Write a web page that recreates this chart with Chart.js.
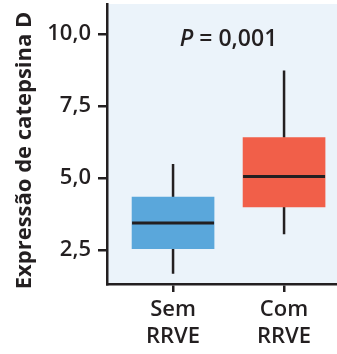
<!DOCTYPE html>
<html>
<head>
<meta charset="utf-8">
<script src="https://cdn.jsdelivr.net/npm/chart.js@4"></script>
<style>
  html, body { margin: 0; padding: 0; background: #ffffff; overflow: hidden; }
  #wrap { width: 337px; height: 354px; position: relative; }
</style>
</head>
<body>
<div id="wrap"><canvas id="c"></canvas></div>
<script>
// ---- data ----
const categories = [['Sem', 'RRVE'], ['Com', 'RRVE']];
const xPositions = [1, 2];
const whiskerLow = [1.68, 3.05];
const q1 = [2.55, 4.00];
const median = [3.44, 5.05];
const q3 = [4.34, 6.40];
const whiskerHigh = [5.49, 8.73];
const yTicks = [2.5, 5.0, 7.5, 10.0];
const boxColors = ['#5aa7db', '#f15f49'];
const pLabelItalic = 'P';
const pLabelRest = ' = 0,001';
const yTitle = 'Expressão de catepsina D';

const INK = '#231f20';
const FONT = "'Open Sans', 'Noto Sans', sans-serif";
Chart.defaults.font.family = FONT;
Chart.defaults.color = INK;

const bgPlugin = {
  id: 'bg',
  beforeDraw(chart) {
    const { ctx, chartArea: a } = chart;
    ctx.save();
    ctx.fillStyle = '#ebf3fa';
    ctx.fillRect(a.left, a.top, chart.width - a.left, a.bottom - a.top);
    ctx.restore();
  }
};

const boxPlugin = {
  id: 'boxparts',
  beforeDatasetsDraw(chart) {
    const { ctx, scales: { x, y } } = chart;
    ctx.save();
    ctx.strokeStyle = INK;
    ctx.lineWidth = 2.5;
    xPositions.forEach((xv, i) => {
      const px = x.getPixelForValue(xv);
      ctx.beginPath();
      ctx.moveTo(px, y.getPixelForValue(whiskerHigh[i]));
      ctx.lineTo(px, y.getPixelForValue(q3[i]));
      ctx.moveTo(px, y.getPixelForValue(q1[i]));
      ctx.lineTo(px, y.getPixelForValue(whiskerLow[i]));
      ctx.stroke();
    });
    ctx.restore();
  },
  afterDatasetsDraw(chart) {
    const { ctx, scales: { y } } = chart;
    const meta = chart.getDatasetMeta(0);
    ctx.save();
    ctx.strokeStyle = INK;
    ctx.lineWidth = 3;
    meta.data.forEach((bar, i) => {
      const half = bar.width / 2;
      const py = y.getPixelForValue(median[i]);
      ctx.beginPath();
      ctx.moveTo(bar.x - half, py);
      ctx.lineTo(bar.x + half, py);
      ctx.stroke();
    });
    ctx.restore();
  },
  afterDraw(chart) {
    const { ctx, scales: { x } } = chart;
    ctx.save();
    ctx.fillStyle = INK;
    ctx.textBaseline = 'alphabetic';
    const fi = 'italic 600 23px ' + FONT;
    const fr = '600 23px ' + FONT;
    ctx.font = fi;
    const w1 = ctx.measureText(pLabelItalic).width;
    ctx.font = fr;
    const w2 = ctx.measureText(pLabelRest).width;
    const cx = x.getPixelForValue(1.5);
    const startX = cx - (w1 + w2) / 2;
    ctx.font = fi;
    ctx.textAlign = 'left';
    ctx.fillText(pLabelItalic, startX, 46);
    ctx.font = fr;
    ctx.fillText(pLabelRest, startX + w1, 46);

    // y-axis title
    ctx.translate(25, 150.5);
    ctx.rotate(-Math.PI / 2);
    ctx.font = 'bold 22px ' + FONT;
    ctx.textAlign = 'center';
    ctx.textBaseline = 'middle';
    ctx.fillText(yTitle, 0, 0);
    ctx.restore();
  }
};

new Chart(document.getElementById('c'), {
  type: 'bar',
  data: {
    datasets: [{
      data: xPositions.map((xv, i) => ({ x: xv, y: [q1[i], q3[i]] })),
      backgroundColor: boxColors,
      borderWidth: 0,
      barThickness: 82
    }]
  },
  options: {
    responsive: true,
    maintainAspectRatio: false,
    animation: false,
    layout: { padding: { top: 4, right: 0, left: 0, bottom: 0 } },
    plugins: { legend: { display: false }, tooltip: { enabled: false }, title: { display: false } },
    scales: {
      x: {
        type: 'linear',
        min: 0.405,
        max: 2.477,
        offset: false,
        afterFit(axis) { axis.height = 70; axis.paddingLeft = 0; axis.paddingRight = 0; },
        afterBuildTicks(axis) { axis.ticks = xPositions.map(v => ({ value: v })); },
        ticks: {
          callback: (v, i) => categories[i],
          font: { size: 22, weight: '600', lineHeight: 1.22 },
          color: INK,
          padding: 4,
          maxRotation: 0,
          autoSkip: false
        },
        grid: { offset: false, drawOnChartArea: false, drawTicks: true, tickLength: 8, color: INK, lineWidth: 2.5 },
        border: { display: true, color: INK, width: 2.5 }
      },
      y: {
        min: 1.32,
        max: 11.04,
        afterFit(axis) { axis.width = 107; axis.paddingTop = 0; axis.paddingBottom = 0; },
        afterBuildTicks(axis) { axis.ticks = yTicks.map(v => ({ value: v })); },
        ticks: {
          callback: v => v.toFixed(1).replace('.', ','),
          font: { size: 22, weight: '600' },
          color: INK,
          padding: 7
        },
        grid: { drawOnChartArea: false, drawTicks: true, tickLength: 9, color: INK, lineWidth: 2.5 },
        border: { display: true, color: INK, width: 2.5 }
      }
    }
  },
  plugins: [bgPlugin, boxPlugin]
});
</script>
</body>
</html>
